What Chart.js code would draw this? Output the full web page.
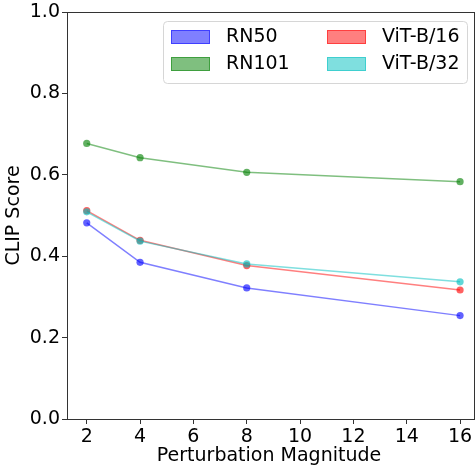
<!DOCTYPE html>
<html>
<head>
<meta charset="utf-8">
<script src="https://cdn.jsdelivr.net/npm/chart.js@4/dist/chart.umd.min.js"></script>
<style>
  html, body { margin: 0; padding: 0; background: #fff; }
  #wrap { width: 475px; height: 467px; }
</style>
</head>
<body>
<div id="wrap"><canvas id="chart"></canvas></div>
<script>
const magnitudes = [2, 4, 8, 16];
const rn50 = [0.482, 0.385, 0.322, 0.254];
const rn101 = [0.677, 0.642, 0.606, 0.583];
const vitB16 = [0.512, 0.439, 0.377, 0.317];
const vitB32 = [0.509, 0.437, 0.381, 0.337];
const xTicks = [2, 4, 6, 8, 10, 12, 14, 16];
const yTicks = [0, 0.2, 0.4, 0.6, 0.8, 1.0];

const FONT = "'DejaVu Sans', sans-serif";

const series = [
  { label: "RN50", values: rn50, rgb: "0, 0, 255" },
  { label: "RN101", values: rn101, rgb: "0, 128, 0" },
  { label: "ViT-B/16", values: vitB16, rgb: "255, 0, 0" },
  { label: "ViT-B/32", values: vitB32, rgb: "0, 191, 191" },
];

const datasets = series.map((s, i) => ({
  label: s.label,
  data: magnitudes.map((m, j) => ({ x: m, y: s.values[j] })),
  borderColor: `rgba(${s.rgb}, 0.5)`,
  backgroundColor: `rgba(${s.rgb}, 0.5)`,
  pointBackgroundColor: `rgba(${s.rgb}, 0.62)`,
  pointBorderWidth: 0,
  pointRadius: 3.6,
  borderWidth: 1.5,
  tension: 0,
  order: series.length - i,
}));

// keep the plot box fixed: scales add no extra padding for their labels
const noScalePadding = {
  id: "noScalePadding",
  beforeLayout(chart) {
    Object.values(chart.scales).forEach((s) => {
      s.getPadding = () => ({ left: 0, right: 0, top: 0, bottom: 0 });
    });
  },
};

// axes box (all four spines) like matplotlib; right spine sits at the canvas edge
const frame = {
  id: "frame",
  afterDraw(chart) {
    const { ctx, chartArea: a } = chart;
    ctx.save();
    ctx.strokeStyle = "#333";
    ctx.lineWidth = 1;
    ctx.strokeRect(a.left + 0.5, a.top + 0.5, chart.width - a.left - 1, a.bottom - a.top);
    ctx.restore();
  },
};

// legend drawn inside the plot, two columns
const boxLegend = {
  id: "boxLegend",
  afterDraw(chart) {
    const { ctx } = chart;
    const x0 = 163, y0 = 21, w = 304, h = 62;
    ctx.save();
    ctx.beginPath();
    ctx.roundRect(x0 + 0.5, y0 + 0.5, w, h, 4);
    ctx.fillStyle = "rgba(255,255,255,0.8)";
    ctx.fill();
    ctx.strokeStyle = "#d6d6d6";
    ctx.lineWidth = 1;
    ctx.stroke();

    ctx.font = `19px ${FONT}`;
    ctx.textBaseline = "middle";
    ctx.textAlign = "left";
    chart.data.datasets.forEach((ds, i) => {
      const col = Math.floor(i / 2);
      const row = i % 2;
      const px = col === 0 ? 171 : 327;
      const py = row === 0 ? 30 : 57;
      ctx.fillStyle = ds.backgroundColor;
      ctx.fillRect(px, py, 39, 14);
      ctx.strokeStyle = ds.borderColor;
      ctx.strokeRect(px + 0.5, py + 0.5, 38, 13);
      ctx.fillStyle = "#000";
      ctx.fillText(ds.label, px + 55, py + 7.5);
    });
    ctx.restore();
  },
};

new Chart(document.getElementById("chart"), {
  type: "line",
  data: { datasets },
  plugins: [noScalePadding, frame, boxLegend],
  options: {
    responsive: true,
    maintainAspectRatio: false,
    animation: false,
    layout: { padding: { top: 12, right: 0, left: 0, bottom: 0 } },
    plugins: {
      legend: { display: false },
      tooltip: { enabled: false },
    },
    scales: {
      x: {
        type: "linear",
        min: 1.26,
        max: 16.41,
        afterBuildTicks: (axis) => {
          axis.ticks = xTicks.map((v) => ({ value: v }));
        },
        afterFit: (scale) => {
          scale.height = 48;
        },
        grid: {
          display: true,
          drawOnChartArea: false,
          drawTicks: true,
          tickLength: 5,
          color: "#333",
        },
        border: { display: true, color: "#333" },
        ticks: {
          color: "#000",
          padding: 2,
          maxRotation: 0,
          font: { family: FONT, size: 19 },
        },
        title: {
          display: true,
          text: "Perturbation Magnitude",
          color: "#000",
          padding: { top: 0, bottom: 0 },
          font: { family: FONT, size: 19 },
        },
      },
      y: {
        min: 0,
        max: 1,
        afterBuildTicks: (axis) => {
          axis.ticks = yTicks.map((v) => ({ value: v }));
        },
        afterFit: (scale) => {
          scale.width = 67;
        },
        grid: {
          display: true,
          drawOnChartArea: false,
          drawTicks: true,
          tickLength: 5,
          color: "#333",
        },
        border: { display: true, color: "#333" },
        ticks: {
          color: "#000",
          padding: 2,
          font: { family: FONT, size: 19 },
          callback: (v) => v.toFixed(1),
        },
        title: {
          display: true,
          text: "CLIP Score",
          color: "#000",
          padding: { top: 3, bottom: 0 },
          font: { family: FONT, size: 19 },
        },
      },
    },
  },
});
</script>
</body>
</html>
